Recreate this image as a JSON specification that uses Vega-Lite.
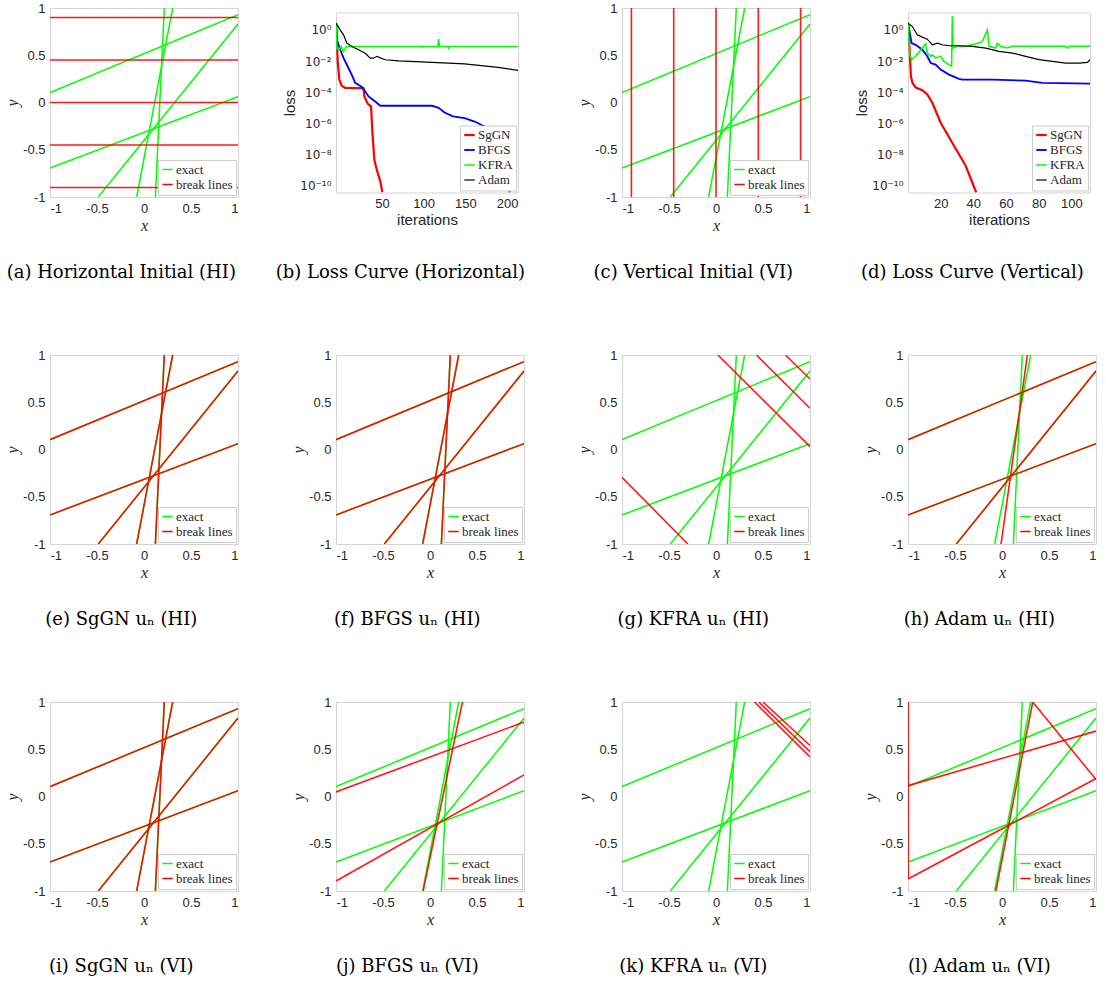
{
  "$schema": "https://vega.github.io/schema/vega-lite/v6.json",
  "background": "white",
  "padding": {"left": 4, "top": 1, "right": 5, "bottom": 5},
  "datasets": {
    "exact": [
      {"id": "E1", "k": "exact", "x": -1, "y": 0.104}, {"id": "E1", "k": "exact", "x": 1, "y": 0.93},
      {"id": "E2", "k": "exact", "x": -1, "y": -0.693}, {"id": "E2", "k": "exact", "x": 1, "y": 0.062},
      {"id": "E3", "k": "exact", "x": -0.486, "y": -1}, {"id": "E3", "k": "exact", "x": 1, "y": 0.83},
      {"id": "E4", "k": "exact", "x": -0.078, "y": -1}, {"id": "E4", "k": "exact", "x": 0.305, "y": 1},
      {"id": "E5", "k": "exact", "x": 0.121, "y": -1}, {"id": "E5", "k": "exact", "x": 0.216, "y": 1}
    ],
    "breaks": [
      {"p": "a", "id": "H1", "k": "break lines", "x": -1, "y": 0.9}, {"p": "a", "id": "H1", "k": "break lines", "x": 1, "y": 0.9},
      {"p": "a", "id": "H2", "k": "break lines", "x": -1, "y": 0.45}, {"p": "a", "id": "H2", "k": "break lines", "x": 1, "y": 0.45},
      {"p": "a", "id": "H3", "k": "break lines", "x": -1, "y": 0}, {"p": "a", "id": "H3", "k": "break lines", "x": 1, "y": 0},
      {"p": "a", "id": "H4", "k": "break lines", "x": -1, "y": -0.45}, {"p": "a", "id": "H4", "k": "break lines", "x": 1, "y": -0.45},
      {"p": "a", "id": "H5", "k": "break lines", "x": -1, "y": -0.9}, {"p": "a", "id": "H5", "k": "break lines", "x": 1, "y": -0.9},
      {"p": "c", "id": "V1", "k": "break lines", "x": -0.9, "y": -1}, {"p": "c", "id": "V1", "k": "break lines", "x": -0.9, "y": 1},
      {"p": "c", "id": "V2", "k": "break lines", "x": -0.45, "y": -1}, {"p": "c", "id": "V2", "k": "break lines", "x": -0.45, "y": 1},
      {"p": "c", "id": "V3", "k": "break lines", "x": 0, "y": -1}, {"p": "c", "id": "V3", "k": "break lines", "x": 0, "y": 1},
      {"p": "c", "id": "V4", "k": "break lines", "x": 0.45, "y": -1}, {"p": "c", "id": "V4", "k": "break lines", "x": 0.45, "y": 1},
      {"p": "c", "id": "V5", "k": "break lines", "x": 0.9, "y": -1}, {"p": "c", "id": "V5", "k": "break lines", "x": 0.9, "y": 1},
      {"p": "e", "id": "B1", "k": "break lines", "x": -1, "y": 0.104}, {"p": "e", "id": "B1", "k": "break lines", "x": 1, "y": 0.93},
      {"p": "e", "id": "B2", "k": "break lines", "x": -1, "y": -0.693}, {"p": "e", "id": "B2", "k": "break lines", "x": 1, "y": 0.062},
      {"p": "e", "id": "B3", "k": "break lines", "x": -0.486, "y": -1}, {"p": "e", "id": "B3", "k": "break lines", "x": 1, "y": 0.83},
      {"p": "e", "id": "B4", "k": "break lines", "x": -0.078, "y": -1}, {"p": "e", "id": "B4", "k": "break lines", "x": 0.305, "y": 1},
      {"p": "e", "id": "B5", "k": "break lines", "x": 0.121, "y": -1}, {"p": "e", "id": "B5", "k": "break lines", "x": 0.216, "y": 1},
      {"p": "f", "id": "B1", "k": "break lines", "x": -1, "y": 0.104}, {"p": "f", "id": "B1", "k": "break lines", "x": 1, "y": 0.93},
      {"p": "f", "id": "B2", "k": "break lines", "x": -1, "y": -0.693}, {"p": "f", "id": "B2", "k": "break lines", "x": 1, "y": 0.062},
      {"p": "f", "id": "B3", "k": "break lines", "x": -0.486, "y": -1}, {"p": "f", "id": "B3", "k": "break lines", "x": 1, "y": 0.83},
      {"p": "f", "id": "B4", "k": "break lines", "x": -0.078, "y": -1}, {"p": "f", "id": "B4", "k": "break lines", "x": 0.305, "y": 1},
      {"p": "f", "id": "B5", "k": "break lines", "x": 0.121, "y": -1}, {"p": "f", "id": "B5", "k": "break lines", "x": 0.216, "y": 1},
      {"p": "g", "id": "G1", "k": "break lines", "x": -1, "y": -0.294}, {"p": "g", "id": "G1", "k": "break lines", "x": -0.3, "y": -1},
      {"p": "g", "id": "G2", "k": "break lines", "x": 0.02, "y": 1}, {"p": "g", "id": "G2", "k": "break lines", "x": 1, "y": 0.03},
      {"p": "g", "id": "G3", "k": "break lines", "x": 0.43, "y": 1}, {"p": "g", "id": "G3", "k": "break lines", "x": 1, "y": 0.436},
      {"p": "g", "id": "G4", "k": "break lines", "x": 0.74, "y": 1}, {"p": "g", "id": "G4", "k": "break lines", "x": 1, "y": 0.746},
      {"p": "h", "id": "B1", "k": "break lines", "x": -1, "y": 0.104}, {"p": "h", "id": "B1", "k": "break lines", "x": 1, "y": 0.93},
      {"p": "h", "id": "B2", "k": "break lines", "x": -1, "y": -0.693}, {"p": "h", "id": "B2", "k": "break lines", "x": 1, "y": 0.062},
      {"p": "h", "id": "B3", "k": "break lines", "x": -0.486, "y": -1}, {"p": "h", "id": "B3", "k": "break lines", "x": 1, "y": 0.83},
      {"p": "h", "id": "B4", "k": "break lines", "x": -0.01, "y": -1}, {"p": "h", "id": "B4", "k": "break lines", "x": 0.27, "y": 1},
      {"p": "i", "id": "B1", "k": "break lines", "x": -1, "y": 0.104}, {"p": "i", "id": "B1", "k": "break lines", "x": 1, "y": 0.93},
      {"p": "i", "id": "B2", "k": "break lines", "x": -1, "y": -0.693}, {"p": "i", "id": "B2", "k": "break lines", "x": 1, "y": 0.062},
      {"p": "i", "id": "B3", "k": "break lines", "x": -0.486, "y": -1}, {"p": "i", "id": "B3", "k": "break lines", "x": 1, "y": 0.83},
      {"p": "i", "id": "B4", "k": "break lines", "x": -0.078, "y": -1}, {"p": "i", "id": "B4", "k": "break lines", "x": 0.305, "y": 1},
      {"p": "i", "id": "B5", "k": "break lines", "x": 0.121, "y": -1}, {"p": "i", "id": "B5", "k": "break lines", "x": 0.216, "y": 1},
      {"p": "j", "id": "J1", "k": "break lines", "x": -1, "y": 0.048}, {"p": "j", "id": "J1", "k": "break lines", "x": 1, "y": 0.788},
      {"p": "j", "id": "J2", "k": "break lines", "x": -1, "y": -0.894}, {"p": "j", "id": "J2", "k": "break lines", "x": 1, "y": 0.228},
      {"p": "j", "id": "J3", "k": "break lines", "x": -0.073, "y": -1}, {"p": "j", "id": "J3", "k": "break lines", "x": 0.345, "y": 1},
      {"p": "k", "id": "K1", "k": "break lines", "x": 0.41, "y": 1}, {"p": "k", "id": "K1", "k": "break lines", "x": 1, "y": 0.42},
      {"p": "k", "id": "K2", "k": "break lines", "x": 0.455, "y": 1}, {"p": "k", "id": "K2", "k": "break lines", "x": 1, "y": 0.475},
      {"p": "k", "id": "K3", "k": "break lines", "x": 0.5, "y": 1}, {"p": "k", "id": "K3", "k": "break lines", "x": 1, "y": 0.54},
      {"p": "l", "id": "L0", "k": "break lines", "x": -0.997, "y": -0.87}, {"p": "l", "id": "L0", "k": "break lines", "x": -0.997, "y": 1},
      {"p": "l", "id": "L1", "k": "break lines", "x": -1, "y": 0.115}, {"p": "l", "id": "L1", "k": "break lines", "x": 1, "y": 0.692},
      {"p": "l", "id": "L2", "k": "break lines", "x": -1, "y": -0.873}, {"p": "l", "id": "L2", "k": "break lines", "x": 1, "y": 0.19},
      {"p": "l", "id": "L3", "k": "break lines", "x": -0.065, "y": -1}, {"p": "l", "id": "L3", "k": "break lines", "x": 0.327, "y": 1},
      {"p": "l", "id": "L4", "k": "break lines", "x": 0.327, "y": 1}, {"p": "l", "id": "L4", "k": "break lines", "x": 1, "y": 0.18}
    ],
    "loss": [
      {"p": "b", "m": "SgGN", "it": -5, "loss": 2.69}, {"p": "b", "m": "SgGN", "it": -4, "loss": 0.316}, {"p": "b", "m": "SgGN", "it": -3, "loss": 0.01},
      {"p": "b", "m": "SgGN", "it": -1, "loss": 6.31e-4}, {"p": "b", "m": "SgGN", "it": 2, "loss": 2.51e-4}, {"p": "b", "m": "SgGN", "it": 6, "loss": 1.91e-4},
      {"p": "b", "m": "SgGN", "it": 20, "loss": 1.82e-4}, {"p": "b", "m": "SgGN", "it": 28, "loss": 1.78e-4}, {"p": "b", "m": "SgGN", "it": 29, "loss": 5.25e-5},
      {"p": "b", "m": "SgGN", "it": 33, "loss": 1.78e-5}, {"p": "b", "m": "SgGN", "it": 37, "loss": 1.26e-5}, {"p": "b", "m": "SgGN", "it": 38.6, "loss": 2.51e-7},
      {"p": "b", "m": "SgGN", "it": 41, "loss": 4.47e-9}, {"p": "b", "m": "SgGN", "it": 44, "loss": 1e-9}, {"p": "b", "m": "SgGN", "it": 48, "loss": 2.0e-10},
      {"p": "b", "m": "SgGN", "it": 50.6, "loss": 3.7e-11},
      {"p": "b", "m": "BFGS", "it": -5, "loss": 2.69}, {"p": "b", "m": "BFGS", "it": -4, "loss": 0.229}, {"p": "b", "m": "BFGS", "it": 0, "loss": 0.0525},
      {"p": "b", "m": "BFGS", "it": 4, "loss": 0.0158}, {"p": "b", "m": "BFGS", "it": 8, "loss": 5.75e-3}, {"p": "b", "m": "BFGS", "it": 14, "loss": 1.26e-3},
      {"p": "b", "m": "BFGS", "it": 18, "loss": 3.98e-4}, {"p": "b", "m": "BFGS", "it": 26, "loss": 2.14e-4}, {"p": "b", "m": "BFGS", "it": 30, "loss": 1.12e-4},
      {"p": "b", "m": "BFGS", "it": 34, "loss": 5.37e-5}, {"p": "b", "m": "BFGS", "it": 42, "loss": 2.51e-5}, {"p": "b", "m": "BFGS", "it": 48, "loss": 1.35e-5},
      {"p": "b", "m": "BFGS", "it": 110, "loss": 1.35e-5}, {"p": "b", "m": "BFGS", "it": 118, "loss": 1e-5}, {"p": "b", "m": "BFGS", "it": 125, "loss": 5.01e-6},
      {"p": "b", "m": "BFGS", "it": 135, "loss": 2.82e-6}, {"p": "b", "m": "BFGS", "it": 149, "loss": 2.19e-6}, {"p": "b", "m": "BFGS", "it": 161, "loss": 1.32e-6},
      {"p": "b", "m": "BFGS", "it": 173, "loss": 6.31e-7}, {"p": "b", "m": "BFGS", "it": 181, "loss": 3.16e-7}, {"p": "b", "m": "BFGS", "it": 189, "loss": 5.5e-8},
      {"p": "b", "m": "BFGS", "it": 197, "loss": 6.31e-10}, {"p": "b", "m": "BFGS", "it": 203, "loss": 3.7e-11},
      {"p": "b", "m": "KFRA", "it": -5, "loss": 2.69}, {"p": "b", "m": "KFRA", "it": -4, "loss": 0.0661}, {"p": "b", "m": "KFRA", "it": -2, "loss": 0.0525},
      {"p": "b", "m": "KFRA", "it": 1, "loss": 0.0851}, {"p": "b", "m": "KFRA", "it": 4, "loss": 0.0407}, {"p": "b", "m": "KFRA", "it": 7, "loss": 0.0794},
      {"p": "b", "m": "KFRA", "it": 10, "loss": 0.0851}, {"p": "b", "m": "KFRA", "it": 97, "loss": 0.0851}, {"p": "b", "m": "KFRA", "it": 98, "loss": 0.0759},
      {"p": "b", "m": "KFRA", "it": 99, "loss": 0.0851}, {"p": "b", "m": "KFRA", "it": 117, "loss": 0.0851}, {"p": "b", "m": "KFRA", "it": 118, "loss": 0.251},
      {"p": "b", "m": "KFRA", "it": 119, "loss": 0.0851}, {"p": "b", "m": "KFRA", "it": 129, "loss": 0.0851}, {"p": "b", "m": "KFRA", "it": 130, "loss": 0.0631},
      {"p": "b", "m": "KFRA", "it": 131, "loss": 0.0851}, {"p": "b", "m": "KFRA", "it": 213, "loss": 0.0851},
      {"p": "b", "m": "Adam", "it": -5, "loss": 2.69}, {"p": "b", "m": "Adam", "it": 0, "loss": 1}, {"p": "b", "m": "Adam", "it": 4, "loss": 0.479},
      {"p": "b", "m": "Adam", "it": 8, "loss": 0.141}, {"p": "b", "m": "Adam", "it": 14, "loss": 0.0851}, {"p": "b", "m": "Adam", "it": 22, "loss": 0.0525},
      {"p": "b", "m": "Adam", "it": 30, "loss": 0.0316}, {"p": "b", "m": "Adam", "it": 36, "loss": 0.0151}, {"p": "b", "m": "Adam", "it": 40, "loss": 0.0151},
      {"p": "b", "m": "Adam", "it": 44, "loss": 0.02}, {"p": "b", "m": "Adam", "it": 48, "loss": 0.0158}, {"p": "b", "m": "Adam", "it": 54, "loss": 0.012},
      {"p": "b", "m": "Adam", "it": 70, "loss": 0.0102}, {"p": "b", "m": "Adam", "it": 110, "loss": 8.13e-3}, {"p": "b", "m": "Adam", "it": 149, "loss": 6.61e-3},
      {"p": "b", "m": "Adam", "it": 189, "loss": 3.89e-3}, {"p": "b", "m": "Adam", "it": 213, "loss": 2.51e-3},
      {"p": "d", "m": "SgGN", "it": 0, "loss": 2.69}, {"p": "d", "m": "SgGN", "it": 1, "loss": 0.0525}, {"p": "d", "m": "SgGN", "it": 1.8, "loss": 1e-3},
      {"p": "d", "m": "SgGN", "it": 2.7, "loss": 3.98e-4}, {"p": "d", "m": "SgGN", "it": 4.7, "loss": 2.0e-4}, {"p": "d", "m": "SgGN", "it": 8.8, "loss": 1.35e-4},
      {"p": "d", "m": "SgGN", "it": 11.8, "loss": 7.08e-5}, {"p": "d", "m": "SgGN", "it": 14.9, "loss": 2.09e-5}, {"p": "d", "m": "SgGN", "it": 20, "loss": 1.1e-6},
      {"p": "d", "m": "SgGN", "it": 27, "loss": 5.89e-8}, {"p": "d", "m": "SgGN", "it": 35.3, "loss": 1.91e-9}, {"p": "d", "m": "SgGN", "it": 41.8, "loss": 3.7e-11},
      {"p": "d", "m": "BFGS", "it": 0, "loss": 2.69}, {"p": "d", "m": "BFGS", "it": 2.2, "loss": 0.141}, {"p": "d", "m": "BFGS", "it": 4.7, "loss": 0.11},
      {"p": "d", "m": "BFGS", "it": 8.8, "loss": 0.0525}, {"p": "d", "m": "BFGS", "it": 11.8, "loss": 0.02}, {"p": "d", "m": "BFGS", "it": 13.9, "loss": 7.41e-3},
      {"p": "d", "m": "BFGS", "it": 16.9, "loss": 5.89e-3}, {"p": "d", "m": "BFGS", "it": 20, "loss": 2.82e-3}, {"p": "d", "m": "BFGS", "it": 25.1, "loss": 1.35e-3},
      {"p": "d", "m": "BFGS", "it": 31.2, "loss": 7.08e-4}, {"p": "d", "m": "BFGS", "it": 33.3, "loss": 6.46e-4}, {"p": "d", "m": "BFGS", "it": 51.6, "loss": 6.46e-4},
      {"p": "d", "m": "BFGS", "it": 72, "loss": 5.5e-4}, {"p": "d", "m": "BFGS", "it": 82.2, "loss": 3.98e-4}, {"p": "d", "m": "BFGS", "it": 111.4, "loss": 3.55e-4},
      {"p": "d", "m": "KFRA", "it": 0, "loss": 2.69}, {"p": "d", "m": "KFRA", "it": 1, "loss": 0.0251}, {"p": "d", "m": "KFRA", "it": 2.2, "loss": 0.0123},
      {"p": "d", "m": "KFRA", "it": 4.7, "loss": 0.02}, {"p": "d", "m": "KFRA", "it": 7.8, "loss": 0.0525}, {"p": "d", "m": "KFRA", "it": 10.8, "loss": 0.129},
      {"p": "d", "m": "KFRA", "it": 11.8, "loss": 0.0324}, {"p": "d", "m": "KFRA", "it": 13.9, "loss": 0.02}, {"p": "d", "m": "KFRA", "it": 14.9, "loss": 0.0251},
      {"p": "d", "m": "KFRA", "it": 16.9, "loss": 0.0158}, {"p": "d", "m": "KFRA", "it": 20, "loss": 0.02}, {"p": "d", "m": "KFRA", "it": 22, "loss": 9.55e-3},
      {"p": "d", "m": "KFRA", "it": 25.1, "loss": 5.89e-3}, {"p": "d", "m": "KFRA", "it": 26.7, "loss": 4.57e-3}, {"p": "d", "m": "KFRA", "it": 27.1, "loss": 7.76},
      {"p": "d", "m": "KFRA", "it": 27.6, "loss": 0.0676}, {"p": "d", "m": "KFRA", "it": 30.2, "loss": 0.0871}, {"p": "d", "m": "KFRA", "it": 35.3, "loss": 0.0871},
      {"p": "d", "m": "KFRA", "it": 43.5, "loss": 0.141}, {"p": "d", "m": "KFRA", "it": 45.5, "loss": 0.182}, {"p": "d", "m": "KFRA", "it": 48.6, "loss": 1},
      {"p": "d", "m": "KFRA", "it": 49.6, "loss": 0.0871}, {"p": "d", "m": "KFRA", "it": 53.7, "loss": 0.0676}, {"p": "d", "m": "KFRA", "it": 54.7, "loss": 0.141},
      {"p": "d", "m": "KFRA", "it": 56.7, "loss": 0.0871}, {"p": "d", "m": "KFRA", "it": 60.8, "loss": 0.0676}, {"p": "d", "m": "KFRA", "it": 63.9, "loss": 0.0871},
      {"p": "d", "m": "KFRA", "it": 96.5, "loss": 0.0871}, {"p": "d", "m": "KFRA", "it": 97.6, "loss": 0.0676}, {"p": "d", "m": "KFRA", "it": 98.6, "loss": 0.0871},
      {"p": "d", "m": "KFRA", "it": 111.4, "loss": 0.0871},
      {"p": "d", "m": "Adam", "it": 0, "loss": 2.69}, {"p": "d", "m": "Adam", "it": 2.7, "loss": 1.62}, {"p": "d", "m": "Adam", "it": 5.7, "loss": 0.479},
      {"p": "d", "m": "Adam", "it": 8.8, "loss": 0.339}, {"p": "d", "m": "Adam", "it": 11.8, "loss": 0.251}, {"p": "d", "m": "Adam", "it": 14.9, "loss": 0.11},
      {"p": "d", "m": "Adam", "it": 18, "loss": 0.141}, {"p": "d", "m": "Adam", "it": 21, "loss": 0.11}, {"p": "d", "m": "Adam", "it": 25.1, "loss": 0.0955},
      {"p": "d", "m": "Adam", "it": 31.2, "loss": 0.0955}, {"p": "d", "m": "Adam", "it": 39.4, "loss": 0.0871}, {"p": "d", "m": "Adam", "it": 47.6, "loss": 0.0676},
      {"p": "d", "m": "Adam", "it": 55.7, "loss": 0.0417}, {"p": "d", "m": "Adam", "it": 63.9, "loss": 0.0324}, {"p": "d", "m": "Adam", "it": 72, "loss": 0.02},
      {"p": "d", "m": "Adam", "it": 80.2, "loss": 0.0123}, {"p": "d", "m": "Adam", "it": 88.4, "loss": 9.55e-3}, {"p": "d", "m": "Adam", "it": 96.5, "loss": 7.41e-3},
      {"p": "d", "m": "Adam", "it": 104.7, "loss": 7.41e-3}, {"p": "d", "m": "Adam", "it": 109.8, "loss": 8.13e-3}, {"p": "d", "m": "Adam", "it": 111.4, "loss": 0.0123}
    ]
  },
  "columns": 4,
  "bounds": "flush",
  "center": true,
  "spacing": {"row": 158, "column": 98},
  "resolve": {"scale": {"color": "independent", "strokeWidth": "independent"}, "legend": {"color": "independent"}},
  "concat": [
    {"width": 188, "height": 189, "title": "(a) Horizontal Initial (HI)",
     "layer": [
       {"data": {"name": "exact"}, "mark": {"type": "line", "strokeWidth": 1.5, "clip": true},
        "encoding": {"x": {"field": "x", "type": "quantitative", "scale": {"domain": [-1, 1], "nice": false}, "axis": {"title": "x", "values": [-1, -0.5, 0, 0.5, 1], "labelExpr": "toString(datum.value)", "titleFont": "Liberation Serif", "titleFontStyle": "italic", "titleFontSize": 16}},
                     "y": {"field": "y", "type": "quantitative", "scale": {"domain": [-1, 1], "nice": false}, "axis": {"title": "y", "values": [-1, -0.5, 0, 0.5, 1], "labelExpr": "toString(datum.value)", "titleFont": "Liberation Serif", "titleFontStyle": "italic", "titleFontSize": 16}},
                     "detail": {"field": "id"},
                     "color": {"field": "k", "type": "nominal", "scale": {"domain": ["exact", "break lines"], "range": ["#00ff00", "#ff0000"]}, "legend": {"title": null}}}},
       {"data": {"name": "breaks"}, "transform": [{"filter": "datum.p == 'a'"}], "mark": {"type": "line", "strokeWidth": 1.6, "strokeOpacity": 0.9, "clip": true},
        "encoding": {"x": {"field": "x", "type": "quantitative"}, "y": {"field": "y", "type": "quantitative"}, "detail": {"field": "id"}, "color": {"field": "k", "type": "nominal"}}}
     ]},
    {"width": 182, "height": 180, "title": {"text": "(b) Loss Curve (Horizontal)", "offset": 36},
     "data": {"name": "loss"}, "transform": [{"filter": "datum.p == 'b'"}],
     "mark": {"type": "line", "clip": true},
     "encoding": {
       "x": {"field": "it", "type": "quantitative", "scale": {"domain": [-5, 213], "nice": false, "zero": false}, "axis": {"title": "iterations", "values": [50, 100, 150, 200]}},
       "y": {"field": "loss", "type": "quantitative", "scale": {"type": "log", "domain": [3.7e-11, 12.9], "nice": false}, "axis": {"title": "loss", "labelFont": "DejaVu Sans", "labelFontSize": 12, "values": [1e-10, 1e-8, 1e-6, 1e-4, 1e-2, 1], "labelExpr": "datum.value >= 0.5 ? '10⁰' : datum.value >= 0.005 ? '10⁻²' : datum.value >= 0.00005 ? '10⁻⁴' : datum.value >= 0.0000005 ? '10⁻⁶' : datum.value >= 0.000000005 ? '10⁻⁸' : '10⁻¹⁰'"}},
       "color": {"field": "m", "type": "nominal", "scale": {"domain": ["SgGN", "BFGS", "KFRA", "Adam"], "range": ["#ff0000", "#0000ff", "#00ff00", "#000000"]}, "legend": {"title": null}},
       "strokeWidth": {"field": "m", "type": "nominal", "scale": {"domain": ["SgGN", "BFGS", "KFRA", "Adam"], "range": [2.2, 1.2, 1.2, 1.2]}, "legend": null}
     }},
    {"width": 188, "height": 189, "title": "(c) Vertical Initial (VI)",
     "layer": [
       {"data": {"name": "exact"}, "mark": {"type": "line", "strokeWidth": 1.5, "clip": true},
        "encoding": {"x": {"field": "x", "type": "quantitative", "scale": {"domain": [-1, 1], "nice": false}, "axis": {"title": "x", "values": [-1, -0.5, 0, 0.5, 1], "labelExpr": "toString(datum.value)", "titleFont": "Liberation Serif", "titleFontStyle": "italic", "titleFontSize": 16}},
                     "y": {"field": "y", "type": "quantitative", "scale": {"domain": [-1, 1], "nice": false}, "axis": {"title": "y", "values": [-1, -0.5, 0, 0.5, 1], "labelExpr": "toString(datum.value)", "titleFont": "Liberation Serif", "titleFontStyle": "italic", "titleFontSize": 16}},
                     "detail": {"field": "id"},
                     "color": {"field": "k", "type": "nominal", "scale": {"domain": ["exact", "break lines"], "range": ["#00ff00", "#ff0000"]}, "legend": {"title": null}}}},
       {"data": {"name": "breaks"}, "transform": [{"filter": "datum.p == 'c'"}], "mark": {"type": "line", "strokeWidth": 1.6, "strokeOpacity": 0.9, "clip": true},
        "encoding": {"x": {"field": "x", "type": "quantitative"}, "y": {"field": "y", "type": "quantitative"}, "detail": {"field": "id"}, "color": {"field": "k", "type": "nominal"}}}
     ]},
    {"width": 182, "height": 180, "title": {"text": "(d) Loss Curve (Vertical)", "offset": 36},
     "data": {"name": "loss"}, "transform": [{"filter": "datum.p == 'd'"}],
     "mark": {"type": "line", "clip": true},
     "encoding": {
       "x": {"field": "it", "type": "quantitative", "scale": {"domain": [0, 111.4], "nice": false, "zero": false}, "axis": {"title": "iterations", "values": [20, 40, 60, 80, 100]}},
       "y": {"field": "loss", "type": "quantitative", "scale": {"type": "log", "domain": [3.7e-11, 12.9], "nice": false}, "axis": {"title": "loss", "labelFont": "DejaVu Sans", "labelFontSize": 12, "values": [1e-10, 1e-8, 1e-6, 1e-4, 1e-2, 1], "labelExpr": "datum.value >= 0.5 ? '10⁰' : datum.value >= 0.005 ? '10⁻²' : datum.value >= 0.00005 ? '10⁻⁴' : datum.value >= 0.0000005 ? '10⁻⁶' : datum.value >= 0.000000005 ? '10⁻⁸' : '10⁻¹⁰'"}},
       "color": {"field": "m", "type": "nominal", "scale": {"domain": ["SgGN", "BFGS", "KFRA", "Adam"], "range": ["#ff0000", "#0000ff", "#00ff00", "#000000"]}, "legend": {"title": null}},
       "strokeWidth": {"field": "m", "type": "nominal", "scale": {"domain": ["SgGN", "BFGS", "KFRA", "Adam"], "range": [2.2, 1.2, 1.2, 1.2]}, "legend": null}
     }},
    {"width": 188, "height": 189, "title": "(e) SgGN uₙ (HI)",
     "layer": [
       {"data": {"name": "exact"}, "mark": {"type": "line", "strokeWidth": 1.5, "clip": true},
        "encoding": {"x": {"field": "x", "type": "quantitative", "scale": {"domain": [-1, 1], "nice": false}, "axis": {"title": "x", "values": [-1, -0.5, 0, 0.5, 1], "labelExpr": "toString(datum.value)", "titleFont": "Liberation Serif", "titleFontStyle": "italic", "titleFontSize": 16}},
                     "y": {"field": "y", "type": "quantitative", "scale": {"domain": [-1, 1], "nice": false}, "axis": {"title": "y", "values": [-1, -0.5, 0, 0.5, 1], "labelExpr": "toString(datum.value)", "titleFont": "Liberation Serif", "titleFontStyle": "italic", "titleFontSize": 16}},
                     "detail": {"field": "id"},
                     "color": {"field": "k", "type": "nominal", "scale": {"domain": ["exact", "break lines"], "range": ["#00ff00", "#ff0000"]}, "legend": {"title": null}}}},
       {"data": {"name": "breaks"}, "transform": [{"filter": "datum.p == 'e'"}], "mark": {"type": "line", "strokeWidth": 1.6, "strokeOpacity": 0.9, "clip": true},
        "encoding": {"x": {"field": "x", "type": "quantitative"}, "y": {"field": "y", "type": "quantitative"}, "detail": {"field": "id"}, "color": {"field": "k", "type": "nominal"}}}
     ]},
    {"width": 188, "height": 189, "title": "(f) BFGS uₙ (HI)",
     "layer": [
       {"data": {"name": "exact"}, "mark": {"type": "line", "strokeWidth": 1.5, "clip": true},
        "encoding": {"x": {"field": "x", "type": "quantitative", "scale": {"domain": [-1, 1], "nice": false}, "axis": {"title": "x", "values": [-1, -0.5, 0, 0.5, 1], "labelExpr": "toString(datum.value)", "titleFont": "Liberation Serif", "titleFontStyle": "italic", "titleFontSize": 16}},
                     "y": {"field": "y", "type": "quantitative", "scale": {"domain": [-1, 1], "nice": false}, "axis": {"title": "y", "values": [-1, -0.5, 0, 0.5, 1], "labelExpr": "toString(datum.value)", "titleFont": "Liberation Serif", "titleFontStyle": "italic", "titleFontSize": 16}},
                     "detail": {"field": "id"},
                     "color": {"field": "k", "type": "nominal", "scale": {"domain": ["exact", "break lines"], "range": ["#00ff00", "#ff0000"]}, "legend": {"title": null}}}},
       {"data": {"name": "breaks"}, "transform": [{"filter": "datum.p == 'f'"}], "mark": {"type": "line", "strokeWidth": 1.6, "strokeOpacity": 0.9, "clip": true},
        "encoding": {"x": {"field": "x", "type": "quantitative"}, "y": {"field": "y", "type": "quantitative"}, "detail": {"field": "id"}, "color": {"field": "k", "type": "nominal"}}}
     ]},
    {"width": 188, "height": 189, "title": "(g) KFRA uₙ (HI)",
     "layer": [
       {"data": {"name": "exact"}, "mark": {"type": "line", "strokeWidth": 1.5, "clip": true},
        "encoding": {"x": {"field": "x", "type": "quantitative", "scale": {"domain": [-1, 1], "nice": false}, "axis": {"title": "x", "values": [-1, -0.5, 0, 0.5, 1], "labelExpr": "toString(datum.value)", "titleFont": "Liberation Serif", "titleFontStyle": "italic", "titleFontSize": 16}},
                     "y": {"field": "y", "type": "quantitative", "scale": {"domain": [-1, 1], "nice": false}, "axis": {"title": "y", "values": [-1, -0.5, 0, 0.5, 1], "labelExpr": "toString(datum.value)", "titleFont": "Liberation Serif", "titleFontStyle": "italic", "titleFontSize": 16}},
                     "detail": {"field": "id"},
                     "color": {"field": "k", "type": "nominal", "scale": {"domain": ["exact", "break lines"], "range": ["#00ff00", "#ff0000"]}, "legend": {"title": null}}}},
       {"data": {"name": "breaks"}, "transform": [{"filter": "datum.p == 'g'"}], "mark": {"type": "line", "strokeWidth": 1.6, "strokeOpacity": 0.9, "clip": true},
        "encoding": {"x": {"field": "x", "type": "quantitative"}, "y": {"field": "y", "type": "quantitative"}, "detail": {"field": "id"}, "color": {"field": "k", "type": "nominal"}}}
     ]},
    {"width": 188, "height": 189, "title": "(h) Adam uₙ (HI)",
     "layer": [
       {"data": {"name": "exact"}, "mark": {"type": "line", "strokeWidth": 1.5, "clip": true},
        "encoding": {"x": {"field": "x", "type": "quantitative", "scale": {"domain": [-1, 1], "nice": false}, "axis": {"title": "x", "values": [-1, -0.5, 0, 0.5, 1], "labelExpr": "toString(datum.value)", "titleFont": "Liberation Serif", "titleFontStyle": "italic", "titleFontSize": 16}},
                     "y": {"field": "y", "type": "quantitative", "scale": {"domain": [-1, 1], "nice": false}, "axis": {"title": "y", "values": [-1, -0.5, 0, 0.5, 1], "labelExpr": "toString(datum.value)", "titleFont": "Liberation Serif", "titleFontStyle": "italic", "titleFontSize": 16}},
                     "detail": {"field": "id"},
                     "color": {"field": "k", "type": "nominal", "scale": {"domain": ["exact", "break lines"], "range": ["#00ff00", "#ff0000"]}, "legend": {"title": null}}}},
       {"data": {"name": "breaks"}, "transform": [{"filter": "datum.p == 'h'"}], "mark": {"type": "line", "strokeWidth": 1.6, "strokeOpacity": 0.9, "clip": true},
        "encoding": {"x": {"field": "x", "type": "quantitative"}, "y": {"field": "y", "type": "quantitative"}, "detail": {"field": "id"}, "color": {"field": "k", "type": "nominal"}}}
     ]},
    {"width": 188, "height": 189, "title": "(i) SgGN uₙ (VI)",
     "layer": [
       {"data": {"name": "exact"}, "mark": {"type": "line", "strokeWidth": 1.5, "clip": true},
        "encoding": {"x": {"field": "x", "type": "quantitative", "scale": {"domain": [-1, 1], "nice": false}, "axis": {"title": "x", "values": [-1, -0.5, 0, 0.5, 1], "labelExpr": "toString(datum.value)", "titleFont": "Liberation Serif", "titleFontStyle": "italic", "titleFontSize": 16}},
                     "y": {"field": "y", "type": "quantitative", "scale": {"domain": [-1, 1], "nice": false}, "axis": {"title": "y", "values": [-1, -0.5, 0, 0.5, 1], "labelExpr": "toString(datum.value)", "titleFont": "Liberation Serif", "titleFontStyle": "italic", "titleFontSize": 16}},
                     "detail": {"field": "id"},
                     "color": {"field": "k", "type": "nominal", "scale": {"domain": ["exact", "break lines"], "range": ["#00ff00", "#ff0000"]}, "legend": {"title": null}}}},
       {"data": {"name": "breaks"}, "transform": [{"filter": "datum.p == 'i'"}], "mark": {"type": "line", "strokeWidth": 1.6, "strokeOpacity": 0.9, "clip": true},
        "encoding": {"x": {"field": "x", "type": "quantitative"}, "y": {"field": "y", "type": "quantitative"}, "detail": {"field": "id"}, "color": {"field": "k", "type": "nominal"}}}
     ]},
    {"width": 188, "height": 189, "title": "(j) BFGS uₙ (VI)",
     "layer": [
       {"data": {"name": "exact"}, "mark": {"type": "line", "strokeWidth": 1.5, "clip": true},
        "encoding": {"x": {"field": "x", "type": "quantitative", "scale": {"domain": [-1, 1], "nice": false}, "axis": {"title": "x", "values": [-1, -0.5, 0, 0.5, 1], "labelExpr": "toString(datum.value)", "titleFont": "Liberation Serif", "titleFontStyle": "italic", "titleFontSize": 16}},
                     "y": {"field": "y", "type": "quantitative", "scale": {"domain": [-1, 1], "nice": false}, "axis": {"title": "y", "values": [-1, -0.5, 0, 0.5, 1], "labelExpr": "toString(datum.value)", "titleFont": "Liberation Serif", "titleFontStyle": "italic", "titleFontSize": 16}},
                     "detail": {"field": "id"},
                     "color": {"field": "k", "type": "nominal", "scale": {"domain": ["exact", "break lines"], "range": ["#00ff00", "#ff0000"]}, "legend": {"title": null}}}},
       {"data": {"name": "breaks"}, "transform": [{"filter": "datum.p == 'j'"}], "mark": {"type": "line", "strokeWidth": 1.6, "strokeOpacity": 0.9, "clip": true},
        "encoding": {"x": {"field": "x", "type": "quantitative"}, "y": {"field": "y", "type": "quantitative"}, "detail": {"field": "id"}, "color": {"field": "k", "type": "nominal"}}}
     ]},
    {"width": 188, "height": 189, "title": "(k) KFRA uₙ (VI)",
     "layer": [
       {"data": {"name": "exact"}, "mark": {"type": "line", "strokeWidth": 1.5, "clip": true},
        "encoding": {"x": {"field": "x", "type": "quantitative", "scale": {"domain": [-1, 1], "nice": false}, "axis": {"title": "x", "values": [-1, -0.5, 0, 0.5, 1], "labelExpr": "toString(datum.value)", "titleFont": "Liberation Serif", "titleFontStyle": "italic", "titleFontSize": 16}},
                     "y": {"field": "y", "type": "quantitative", "scale": {"domain": [-1, 1], "nice": false}, "axis": {"title": "y", "values": [-1, -0.5, 0, 0.5, 1], "labelExpr": "toString(datum.value)", "titleFont": "Liberation Serif", "titleFontStyle": "italic", "titleFontSize": 16}},
                     "detail": {"field": "id"},
                     "color": {"field": "k", "type": "nominal", "scale": {"domain": ["exact", "break lines"], "range": ["#00ff00", "#ff0000"]}, "legend": {"title": null}}}},
       {"data": {"name": "breaks"}, "transform": [{"filter": "datum.p == 'k'"}], "mark": {"type": "line", "strokeWidth": 1.6, "strokeOpacity": 0.9, "clip": true},
        "encoding": {"x": {"field": "x", "type": "quantitative"}, "y": {"field": "y", "type": "quantitative"}, "detail": {"field": "id"}, "color": {"field": "k", "type": "nominal"}}}
     ]},
    {"width": 188, "height": 189, "title": "(l) Adam uₙ (VI)",
     "layer": [
       {"data": {"name": "exact"}, "mark": {"type": "line", "strokeWidth": 1.5, "clip": true},
        "encoding": {"x": {"field": "x", "type": "quantitative", "scale": {"domain": [-1, 1], "nice": false}, "axis": {"title": "x", "values": [-1, -0.5, 0, 0.5, 1], "labelExpr": "toString(datum.value)", "titleFont": "Liberation Serif", "titleFontStyle": "italic", "titleFontSize": 16}},
                     "y": {"field": "y", "type": "quantitative", "scale": {"domain": [-1, 1], "nice": false}, "axis": {"title": "y", "values": [-1, -0.5, 0, 0.5, 1], "labelExpr": "toString(datum.value)", "titleFont": "Liberation Serif", "titleFontStyle": "italic", "titleFontSize": 16}},
                     "detail": {"field": "id"},
                     "color": {"field": "k", "type": "nominal", "scale": {"domain": ["exact", "break lines"], "range": ["#00ff00", "#ff0000"]}, "legend": {"title": null}}}},
       {"data": {"name": "breaks"}, "transform": [{"filter": "datum.p == 'l'"}], "mark": {"type": "line", "strokeWidth": 1.6, "strokeOpacity": 0.9, "clip": true},
        "encoding": {"x": {"field": "x", "type": "quantitative"}, "y": {"field": "y", "type": "quantitative"}, "detail": {"field": "id"}, "color": {"field": "k", "type": "nominal"}}}
     ]}
  ],
  "config": {
    "view": {"stroke": "#d4d4d4", "strokeWidth": 1},
    "axis": {"grid": false, "domain": false, "ticks": false, "labelFont": "Liberation Sans", "labelFontSize": 13, "labelColor": "#262626", "labelPadding": 5, "titleFont": "Liberation Sans", "titleFontSize": 15, "titleFontWeight": "normal", "titleColor": "#262626", "titlePadding": 2},
    "legend": {"orient": "bottom-right", "offset": 2, "padding": 3, "strokeColor": "#cccccc", "fillColor": "white", "symbolType": "stroke", "symbolSize": 110, "symbolStrokeWidth": 1.5, "labelFont": "Liberation Serif", "labelFontSize": 13, "labelColor": "#262626", "labelOffset": 2, "rowPadding": 1, "cornerRadius": 0},
    "title": {"orient": "bottom", "font": "DejaVu Serif", "fontSize": 18, "fontWeight": "normal", "color": "black", "offset": 31, "anchor": "middle", "frame": "bounds"}
  }
}
